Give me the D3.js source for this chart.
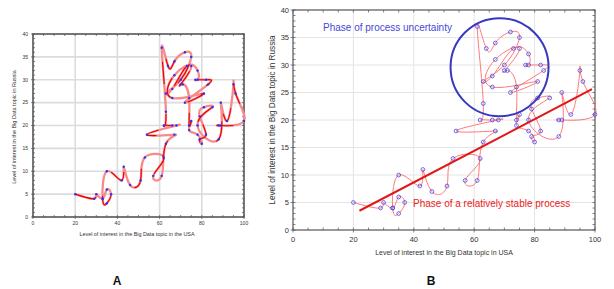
<!DOCTYPE html>
<html><head><meta charset="utf-8">
<script src="https://cdn.jsdelivr.net/npm/d3@7/dist/d3.min.js"></script>
<style>body{margin:0;background:#fff}svg{display:block;font-family:"Liberation Sans",Arial,sans-serif}</style>
</head><body>
<svg id="c" width="614" height="289"></svg>
<script>
// Interest in the Big Data topic (time-ordered observations)
const usa = [20,29,30,33,35,37,35,33,35,42,43,46,51,53,62,57,61,63,67,54,68,66,62,63,61,64,67,72,75,70,63,66,73,78,78,77,82,83,72,81,66,67,75,70,71,74,74,75,74,78,80,79,82,79,81,85,78,88,89,92,95,96,100,89,88];
const russia = [5,4,5,4,6,5,3,4,10,8,11,7,8,13,13,9,9,16,18,18,20,20,20,23,37,33,34,36,35,30,27,28,33,32,30,30,30,29,25,27,26,31,33,29,29,26,20,21,19,18,16,17,18,22,24,24,20,17,25,21,29,27,21,20,20];
const xTicks = [0,20,40,60,80,100];
const yTicks = [0,5,10,15,20,25,30,35,40];
const regX = [22,99];
const regY = [3.5,25.6];
const circleCenter = [68.4,29.6];
const labels = {uncertain:"Phase of process uncertainty", stable:"Phase of a relatively stable process"};

const svg = d3.select("#c");
const pts = usa.map((u,i)=>[u,russia[i]]);

function panel(cfg){
  const g = svg.append("g");
  const x = d3.scaleLinear().domain([0,100]).range([cfg.l,cfg.r]);
  const y = d3.scaleLinear().domain([0,40]).range([cfg.b,cfg.t]);
  g.selectAll(".gx").data(xTicks.slice(1,-1)).join("line")
    .attr("x1",d=>x(d)).attr("x2",d=>x(d)).attr("y1",cfg.t).attr("y2",cfg.b)
    .attr("stroke",cfg.grid).attr("stroke-width",cfg.gw);
  g.selectAll(".gy").data(yTicks.slice(1,-1)).join("line")
    .attr("y1",d=>y(d)).attr("y2",d=>y(d)).attr("x1",cfg.l).attr("x2",cfg.r)
    .attr("stroke",cfg.grid).attr("stroke-width",cfg.gw);
  const minX = d3.range(0,101,5), minY = d3.range(0,41,1);
  g.selectAll(".mx").data(minX).join("line")
    .attr("x1",d=>x(d)).attr("x2",d=>x(d)).attr("y1",cfg.b).attr("y2",cfg.b-cfg.tk)
    .attr("stroke","#666").attr("stroke-width",0.8);
  g.selectAll(".mxt").data(minX).join("line")
    .attr("x1",d=>x(d)).attr("x2",d=>x(d)).attr("y1",cfg.t).attr("y2",cfg.t+cfg.tk)
    .attr("stroke","#666").attr("stroke-width",0.8);
  g.selectAll(".my").data(minY).join("line")
    .attr("y1",d=>y(d)).attr("y2",d=>y(d)).attr("x1",cfg.l).attr("x2",cfg.l+cfg.tk)
    .attr("stroke","#666").attr("stroke-width",0.8);
  g.selectAll(".myr").data(minY).join("line")
    .attr("y1",d=>y(d)).attr("y2",d=>y(d)).attr("x1",cfg.r).attr("x2",cfg.r-cfg.tk)
    .attr("stroke","#666").attr("stroke-width",0.8);
  g.selectAll(".Mx").data(xTicks).join("line")
    .attr("x1",d=>x(d)).attr("x2",d=>x(d)).attr("y1",cfg.b).attr("y2",cfg.b+cfg.tk)
    .attr("stroke","#666").attr("stroke-width",0.8);
  g.selectAll(".My").data(yTicks).join("line")
    .attr("y1",d=>y(d)).attr("y2",d=>y(d)).attr("x1",cfg.l).attr("x2",cfg.l-cfg.tk)
    .attr("stroke","#666").attr("stroke-width",0.8);
  g.append("rect").attr("x",cfg.l).attr("y",cfg.t).attr("width",cfg.r-cfg.l).attr("height",cfg.b-cfg.t)
    .attr("fill","none").attr("stroke","#555").attr("stroke-width",cfg.fw);
  g.selectAll(".lx").data(xTicks).join("text")
    .attr("x",d=>x(d)).attr("y",cfg.b+cfg.xlo).attr("text-anchor","middle")
    .attr("font-size",cfg.fs).attr("fill","#333").text(d=>d);
  g.selectAll(".ly").data(yTicks).join("text")
    .attr("x",cfg.l-cfg.ylo).attr("y",d=>y(d)+cfg.fs*0.35).attr("text-anchor","end")
    .attr("font-size",cfg.fs).attr("fill","#333").text(d=>d);
  g.append("text").attr("x",cfg.xtx).attr("y",cfg.xty).attr("text-anchor","middle")
    .attr("font-size",cfg.tfs).attr("fill","#333").text(cfg.xtitle);
  g.append("text").attr("transform",`translate(${cfg.ytx},${cfg.yty}) rotate(-90)`).attr("text-anchor","middle")
    .attr("font-size",cfg.tfsy).attr("fill","#333").text(cfg.ytitle);
  g.append("text").attr("x",cfg.lx).attr("y",285).attr("text-anchor","middle")
    .attr("font-size",12).attr("font-weight","bold").attr("fill","#111").text(cfg.letter);
  return {g,x,y};
}

// Panel A
const A = panel({l:33,r:244,t:34,b:217,grid:"#dcdcdc",gw:1.6,tk:2,fw:1.6,fs:5,xlo:8,ylo:5,
  tfs:5.4,tfsy:5.5,xtx:137,xty:236,ytx:16,yty:127,
  xtitle:"Level of interest in the Big Data topic in the USA",
  ytitle:"Level of interest in the Big Data topic in Russia",lx:117,letter:"A"});
const lineA = d3.line().x(d=>A.x(d[0])).y(d=>A.y(d[1])).curve(d3.curveNatural);
A.g.append("path").attr("d",lineA(pts)).attr("fill","none").attr("stroke","#f78a8a").attr("stroke-width",2.3);
A.g.append("path").attr("d",lineA(pts)).attr("fill","none").attr("stroke","#e80000").attr("stroke-width",1.1)
  .attr("stroke-dasharray","22 30");
A.g.selectAll(".pa").data(pts).join("circle").attr("cx",d=>A.x(d[0])).attr("cy",d=>A.y(d[1]))
  .attr("r",1.2).attr("fill","#3030ff");

// Panel B
const B = panel({l:293,r:595,t:10,b:230,grid:"#e4e4e4",gw:1,tk:2.5,fw:1.2,fs:7.5,xlo:12,ylo:4,
  tfs:7,tfsy:8.2,xtx:444,xty:255,ytx:275,yty:120,
  xtitle:"Level of interest in the Big Data topic in USA",
  ytitle:"Level of interest in the Big Data topic in Russia",lx:431,letter:"B"});
const lineB = d3.line().x(d=>B.x(d[0])).y(d=>B.y(d[1])).curve(d3.curveNatural);
B.g.append("path").attr("d",lineB(pts)).attr("fill","none").attr("stroke","#ff6a6a").attr("stroke-width",0.9);
B.g.append("line").attr("x1",B.x(regX[0])).attr("y1",B.y(regY[0])).attr("x2",B.x(regX[1])).attr("y2",B.y(regY[1]))
  .attr("stroke","#e01818").attr("stroke-width",2);
B.g.selectAll(".pb").data(pts).join("circle").attr("cx",d=>B.x(d[0])).attr("cy",d=>B.y(d[1]))
  .attr("r",1.9).attr("fill","none").attr("stroke","#4848f0").attr("stroke-width",0.8);
B.g.append("circle").attr("cx",B.x(circleCenter[0])).attr("cy",B.y(circleCenter[1])).attr("r",49)
  .attr("fill","none").attr("stroke","#3838c0").attr("stroke-width",2);
B.g.append("text").attr("x",323).attr("y",31).attr("font-size",10).attr("fill","#4848d8").text(labels.uncertain);
B.g.append("text").attr("x",413).attr("y",207).attr("font-size",10).attr("fill","#f02020").text(labels.stable);
</script>
</body></html>
